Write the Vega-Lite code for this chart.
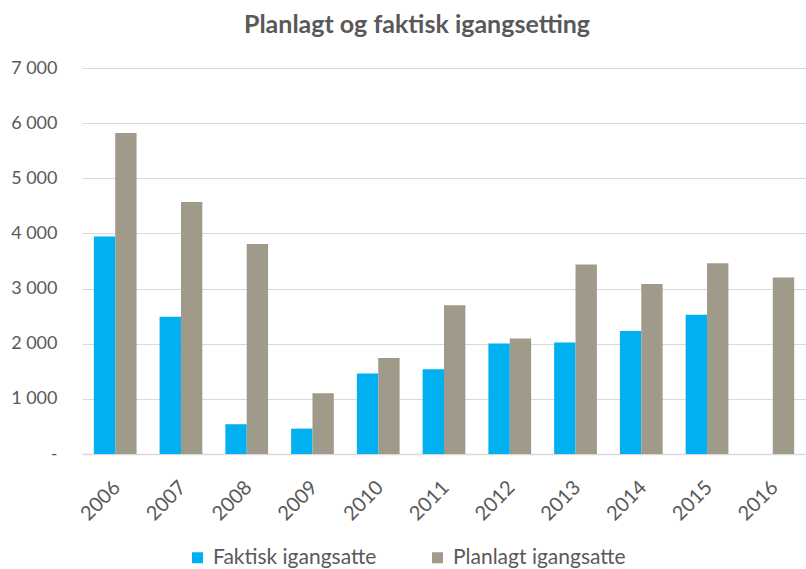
{
  "$schema": "https://vega.github.io/schema/vega-lite/v6.json",
  "autosize": "none",
  "width": 724,
  "height": 386,
  "padding": {"left": 82, "top": 68, "right": 0, "bottom": 115},
  "background": "white",
  "title": {
    "text": "Planlagt og faktisk igangsetting",
    "font": "Lato",
    "fontSize": 25,
    "fontWeight": "bold",
    "color": "#595959",
    "anchor": "middle",
    "frame": "group",
    "offset": 21,
    "dx": -27
  },
  "data": {
    "values": [
      {"year": "2006", "serie": "Faktisk igangsatte", "value": 3945},
      {"year": "2006", "serie": "Planlagt igangsatte", "value": 5820},
      {"year": "2007", "serie": "Faktisk igangsatte", "value": 2490},
      {"year": "2007", "serie": "Planlagt igangsatte", "value": 4568},
      {"year": "2008", "serie": "Faktisk igangsatte", "value": 540},
      {"year": "2008", "serie": "Planlagt igangsatte", "value": 3810},
      {"year": "2009", "serie": "Faktisk igangsatte", "value": 460},
      {"year": "2009", "serie": "Planlagt igangsatte", "value": 1100},
      {"year": "2010", "serie": "Faktisk igangsatte", "value": 1458},
      {"year": "2010", "serie": "Planlagt igangsatte", "value": 1742},
      {"year": "2011", "serie": "Faktisk igangsatte", "value": 1537},
      {"year": "2011", "serie": "Planlagt igangsatte", "value": 2698},
      {"year": "2012", "serie": "Faktisk igangsatte", "value": 2002},
      {"year": "2012", "serie": "Planlagt igangsatte", "value": 2093},
      {"year": "2013", "serie": "Faktisk igangsatte", "value": 2020},
      {"year": "2013", "serie": "Planlagt igangsatte", "value": 3436},
      {"year": "2014", "serie": "Faktisk igangsatte", "value": 2232},
      {"year": "2014", "serie": "Planlagt igangsatte", "value": 3085},
      {"year": "2015", "serie": "Faktisk igangsatte", "value": 2523},
      {"year": "2015", "serie": "Planlagt igangsatte", "value": 3461},
      {"year": "2016", "serie": "Planlagt igangsatte", "value": 3200}
    ]
  },
  "mark": {"type": "bar"},
  "encoding": {
    "x": {
      "field": "year",
      "type": "nominal",
      "scale": {"paddingInner": 0.35, "paddingOuter": 0.18},
      "axis": {
        "title": null,
        "labelAngle": -45,
        "labelFont": "Lato",
        "labelFontSize": 20,
        "labelColor": "#595959",
        "labelPadding": 23,
        "labelOffset": -5,
        "ticks": false,
        "domainColor": "#D9D9D9",
        "domainWidth": 1.5
      }
    },
    "xOffset": {
      "field": "serie",
      "type": "nominal",
      "scale": {"domain": ["Faktisk igangsatte", "Planlagt igangsatte"], "paddingInner": 0, "paddingOuter": 0}
    },
    "y": {
      "field": "value",
      "type": "quantitative",
      "scale": {"domain": [0, 7000], "nice": false},
      "axis": {
        "title": null,
        "values": [0, 1000, 2000, 3000, 4000, 5000, 6000, 7000],
        "labelExpr": "datum.value == 0 ? '-' : replace(format(datum.value, ',d'), ',', ' ')",
        "labelFont": "Lato",
        "labelFontSize": 18,
        "labelColor": "#595959",
        "labelPadding": 25,
        "ticks": false,
        "domain": false,
        "gridColor": "#D9D9D9",
        "gridWidth": 1
      }
    },
    "color": {
      "field": "serie",
      "type": "nominal",
      "scale": {
        "domain": ["Faktisk igangsatte", "Planlagt igangsatte"],
        "range": ["#00B0F0", "#A09A8B"]
      },
      "legend": {
        "title": null,
        "orient": "none",
        "direction": "horizontal",
        "legendX": 105,
        "legendY": 479,
        "symbolType": "square",
        "symbolSize": 121,
        "symbolStrokeWidth": 0,
        "labelFont": "Lato",
        "labelFontSize": 21,
        "labelColor": "#595959",
        "labelOffset": 5,
        "labelLimit": 400,
        "columnPadding": 50
      }
    }
  },
  "config": {
    "view": {"stroke": null}
  }
}
